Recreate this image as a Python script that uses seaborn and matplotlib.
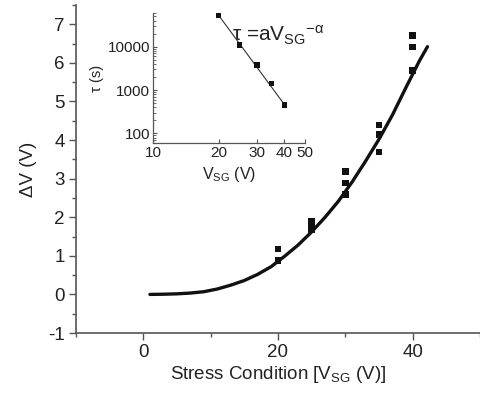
import numpy as np
import pandas as pd
import matplotlib
matplotlib.use("Agg")
import matplotlib.pyplot as plt
import seaborn as sns
from matplotlib.ticker import MultipleLocator, FixedLocator, FixedFormatter, NullLocator, LogLocator, NullFormatter

# ---- data ----
stress_x = [20, 20, 25, 25, 25, 30, 30, 30, 35, 35, 35, 40, 40, 40]
delta_v = [1.18, 0.88, 1.89, 1.76, 1.67, 3.18, 2.89, 2.59, 4.39, 4.14, 3.69, 6.71, 6.41, 5.80]

fit_x = [1, 3, 5, 7, 9, 11, 13, 15, 17, 19, 21, 23, 25, 27, 29, 31, 33, 35, 37, 39, 41, 42.2]
fit_y = [0.0, 0.005, 0.015, 0.035, 0.07, 0.14, 0.24, 0.36, 0.52, 0.72, 0.99, 1.28, 1.62,
         2.00, 2.42, 2.91, 3.45, 4.02, 4.65, 5.36, 6.05, 6.42]

inset_v = [20, 25, 30, 35, 40]
inset_tau = [51500, 10900, 3800, 1400, 452]
inset_fit_v = [20, 40]
inset_fit_tau = [53000, 470]

main_xticks = [0, 20, 40]
main_yticks = [-1, 0, 1, 2, 3, 4, 5, 6, 7]
inset_xticks = [10, 20, 30, 40, 50]
inset_xticklabels = ["10", "20", "30", "40", "50"]
inset_yticks = [100, 1000, 10000]
inset_yticklabels = ["100", "1000", "10000"]

sns.set_theme(style="ticks")
plt.rcParams["font.family"] = ["Liberation Sans", "DejaVu Sans"]
plt.rcParams["mathtext.fontset"] = "custom"
plt.rcParams["mathtext.rm"] = "Liberation Sans"
plt.rcParams["mathtext.it"] = "Liberation Sans"
plt.rcParams["mathtext.bf"] = "Liberation Sans:bold"
plt.rcParams["axes.unicode_minus"] = False

spine_c = "#555555"
text_c = "#222222"

fig = plt.figure(figsize=(4.8, 4.0), dpi=100)
ax = fig.add_axes([0.158, 0.1675, 0.842, 0.82])

df_pts = pd.DataFrame({"x": stress_x, "y": delta_v})
df_fit = pd.DataFrame({"x": fit_x, "y": fit_y})
sns.lineplot(data=df_fit, x="x", y="y", ax=ax, color="#111111", linewidth=2.4, sort=False)
sns.scatterplot(data=df_pts, x="x", y="y", ax=ax, marker="s", s=22, color="#111111",
                edgecolor="none", zorder=3)

ax.set_xlim(-10, 50)
ax.set_ylim(-1, 7.5)
ax.xaxis.set_major_locator(FixedLocator(main_xticks))
ax.xaxis.set_minor_locator(MultipleLocator(10))
ax.yaxis.set_major_locator(FixedLocator(main_yticks))
ax.yaxis.set_minor_locator(MultipleLocator(0.5))
ax.tick_params(axis="both", which="major", direction="out", length=5, width=1,
               color=spine_c, labelsize=13.5, labelcolor=text_c, pad=3)
ax.tick_params(axis="both", which="minor", direction="out", length=3, width=1, color=spine_c)
for s in ["top", "right"]:
    ax.spines[s].set_visible(False)
for s in ["left", "bottom"]:
    ax.spines[s].set_color(spine_c)
    ax.spines[s].set_linewidth(1.2)
ax.set_xlabel("Stress Condition [V$_{\\rm SG}$ (V)]", fontsize=13.5, color=text_c, labelpad=2)
ax.set_ylabel("ΔV (V)", fontsize=13.5, color=text_c, labelpad=8)

# ---- inset ----
ins = fig.add_axes([0.319, 0.6425, 0.317, 0.325])
ins.set_facecolor("none")
df_in = pd.DataFrame({"v": inset_v, "tau": inset_tau})
df_in_fit = pd.DataFrame({"v": inset_fit_v, "tau": inset_fit_tau})
sns.lineplot(data=df_in_fit, x="v", y="tau", ax=ins, color="#333333", linewidth=0.8)
sns.scatterplot(data=df_in, x="v", y="tau", ax=ins, marker="s", s=14, color="#111111",
                edgecolor="none", zorder=3)
ins.set_xscale("log")
ins.set_yscale("log")
ins.set_xlim(10, 50)
ins.set_ylim(60, 60000)
ins.xaxis.set_major_locator(FixedLocator(inset_xticks))
ins.xaxis.set_major_formatter(FixedFormatter(inset_xticklabels))
ins.xaxis.set_minor_locator(NullLocator())
ins.xaxis.set_minor_formatter(NullFormatter())
ins.yaxis.set_major_locator(FixedLocator(inset_yticks))
ins.yaxis.set_major_formatter(FixedFormatter(inset_yticklabels))
ins.yaxis.set_minor_locator(LogLocator(base=10, subs=np.arange(2, 10)))
ins.yaxis.set_minor_formatter(NullFormatter())
ins.tick_params(axis="both", which="major", direction="in", length=3, width=0.8,
                color=spine_c, labelsize=11, labelcolor=text_c, pad=2)
ins.tick_params(axis="both", which="minor", direction="in", length=1.8, width=0.6, color=spine_c)
for s in ["top", "right"]:
    ins.spines[s].set_visible(False)
for s in ["left", "bottom"]:
    ins.spines[s].set_color(spine_c)
    ins.spines[s].set_linewidth(0.9)
ins.set_xlabel("V$_{\\rm SG}$ (V)", fontsize=11.5, color=text_c, labelpad=4)
ins.set_ylabel("τ (s)", fontsize=10.5, color=text_c, labelpad=3)
ins.text(0.52, 0.78, "τ =aV$_{\\rm SG}$$^{-\\alpha}$", transform=ins.transAxes,
         fontsize=15, color=text_c, ha="left", va="baseline")

fig.savefig("out.png", dpi=100)
